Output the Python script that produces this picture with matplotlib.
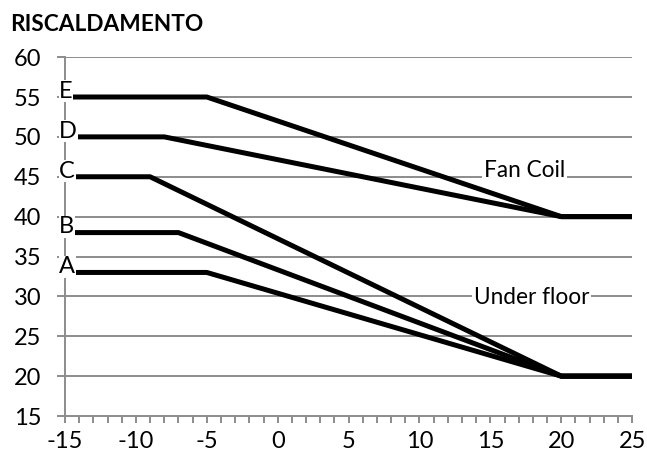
import matplotlib
matplotlib.use("Agg")
import matplotlib.pyplot as plt
from matplotlib.ticker import MultipleLocator

plt.rcParams['font.family'] = ['Lato', 'DejaVu Sans']
plt.rcParams['axes.unicode_minus'] = False

# data
x_E = [-15, -5, 20, 25]; y_E = [55, 55, 40, 40]
x_D = [-15, -8, 20, 25]; y_D = [50, 50, 40, 40]
x_C = [-15, -9, 20, 25]; y_C = [45, 45, 20, 20]
x_B = [-15, -7, 20, 25]; y_B = [38, 38, 20, 20]
x_A = [-15, -5, 20, 25]; y_A = [33, 33, 20, 20]
series = [("E", x_E, y_E), ("D", x_D, y_D), ("C", x_C, y_C), ("B", x_B, y_B), ("A", x_A, y_A)]
title = "RISCALDAMENTO"
notes = [("Fan Coil", 17.4, 45.8), ("Under floor", 17.9, 29.9)]

fig = plt.figure(figsize=(6.47, 4.57), dpi=100)
ax = fig.add_axes([0.1005, 0.0897, 0.8765, 0.7853])

grid_c = '#8c8c8c'
for yv in range(20, 61, 5):
    ax.axhline(yv, color=grid_c, lw=1.4, zorder=0)

for name, xs, ys in series:
    ax.plot(xs, ys, color='black', lw=3.6, solid_capstyle='butt', zorder=3)
    ax.text(xs[0] - 0.4, ys[0] + 0.7, name, fontsize=17, ha='left', va='center',
            zorder=4, bbox=dict(facecolor='white', edgecolor='none', pad=0.3))

for txt, xv, yv in notes:
    ax.text(xv, yv, txt, fontsize=16.3, ha='center', va='center', zorder=4,
            bbox=dict(facecolor='white', edgecolor='none', pad=1.5))

ax.set_xlim(-15, 25)
ax.set_ylim(15, 60)
ax.xaxis.set_major_locator(MultipleLocator(5))
ax.xaxis.set_minor_locator(MultipleLocator(1))
ax.yaxis.set_major_locator(MultipleLocator(5))
for s in ['top', 'right']:
    ax.spines[s].set_visible(False)
for s in ['left', 'bottom']:
    ax.spines[s].set_color(grid_c)
    ax.spines[s].set_linewidth(1.4)
ax.tick_params(axis='both', which='both', direction='out', color=grid_c, width=1.4,
               labelsize=17)
ax.tick_params(axis='x', which='both', length=5, pad=6)
ax.tick_params(axis='y', which='major', length=6, pad=11)

fig.text(0.016, 0.947, title, fontsize=16.3, fontweight='bold', ha='left', va='center')

fig.savefig("out.png", dpi=100)
